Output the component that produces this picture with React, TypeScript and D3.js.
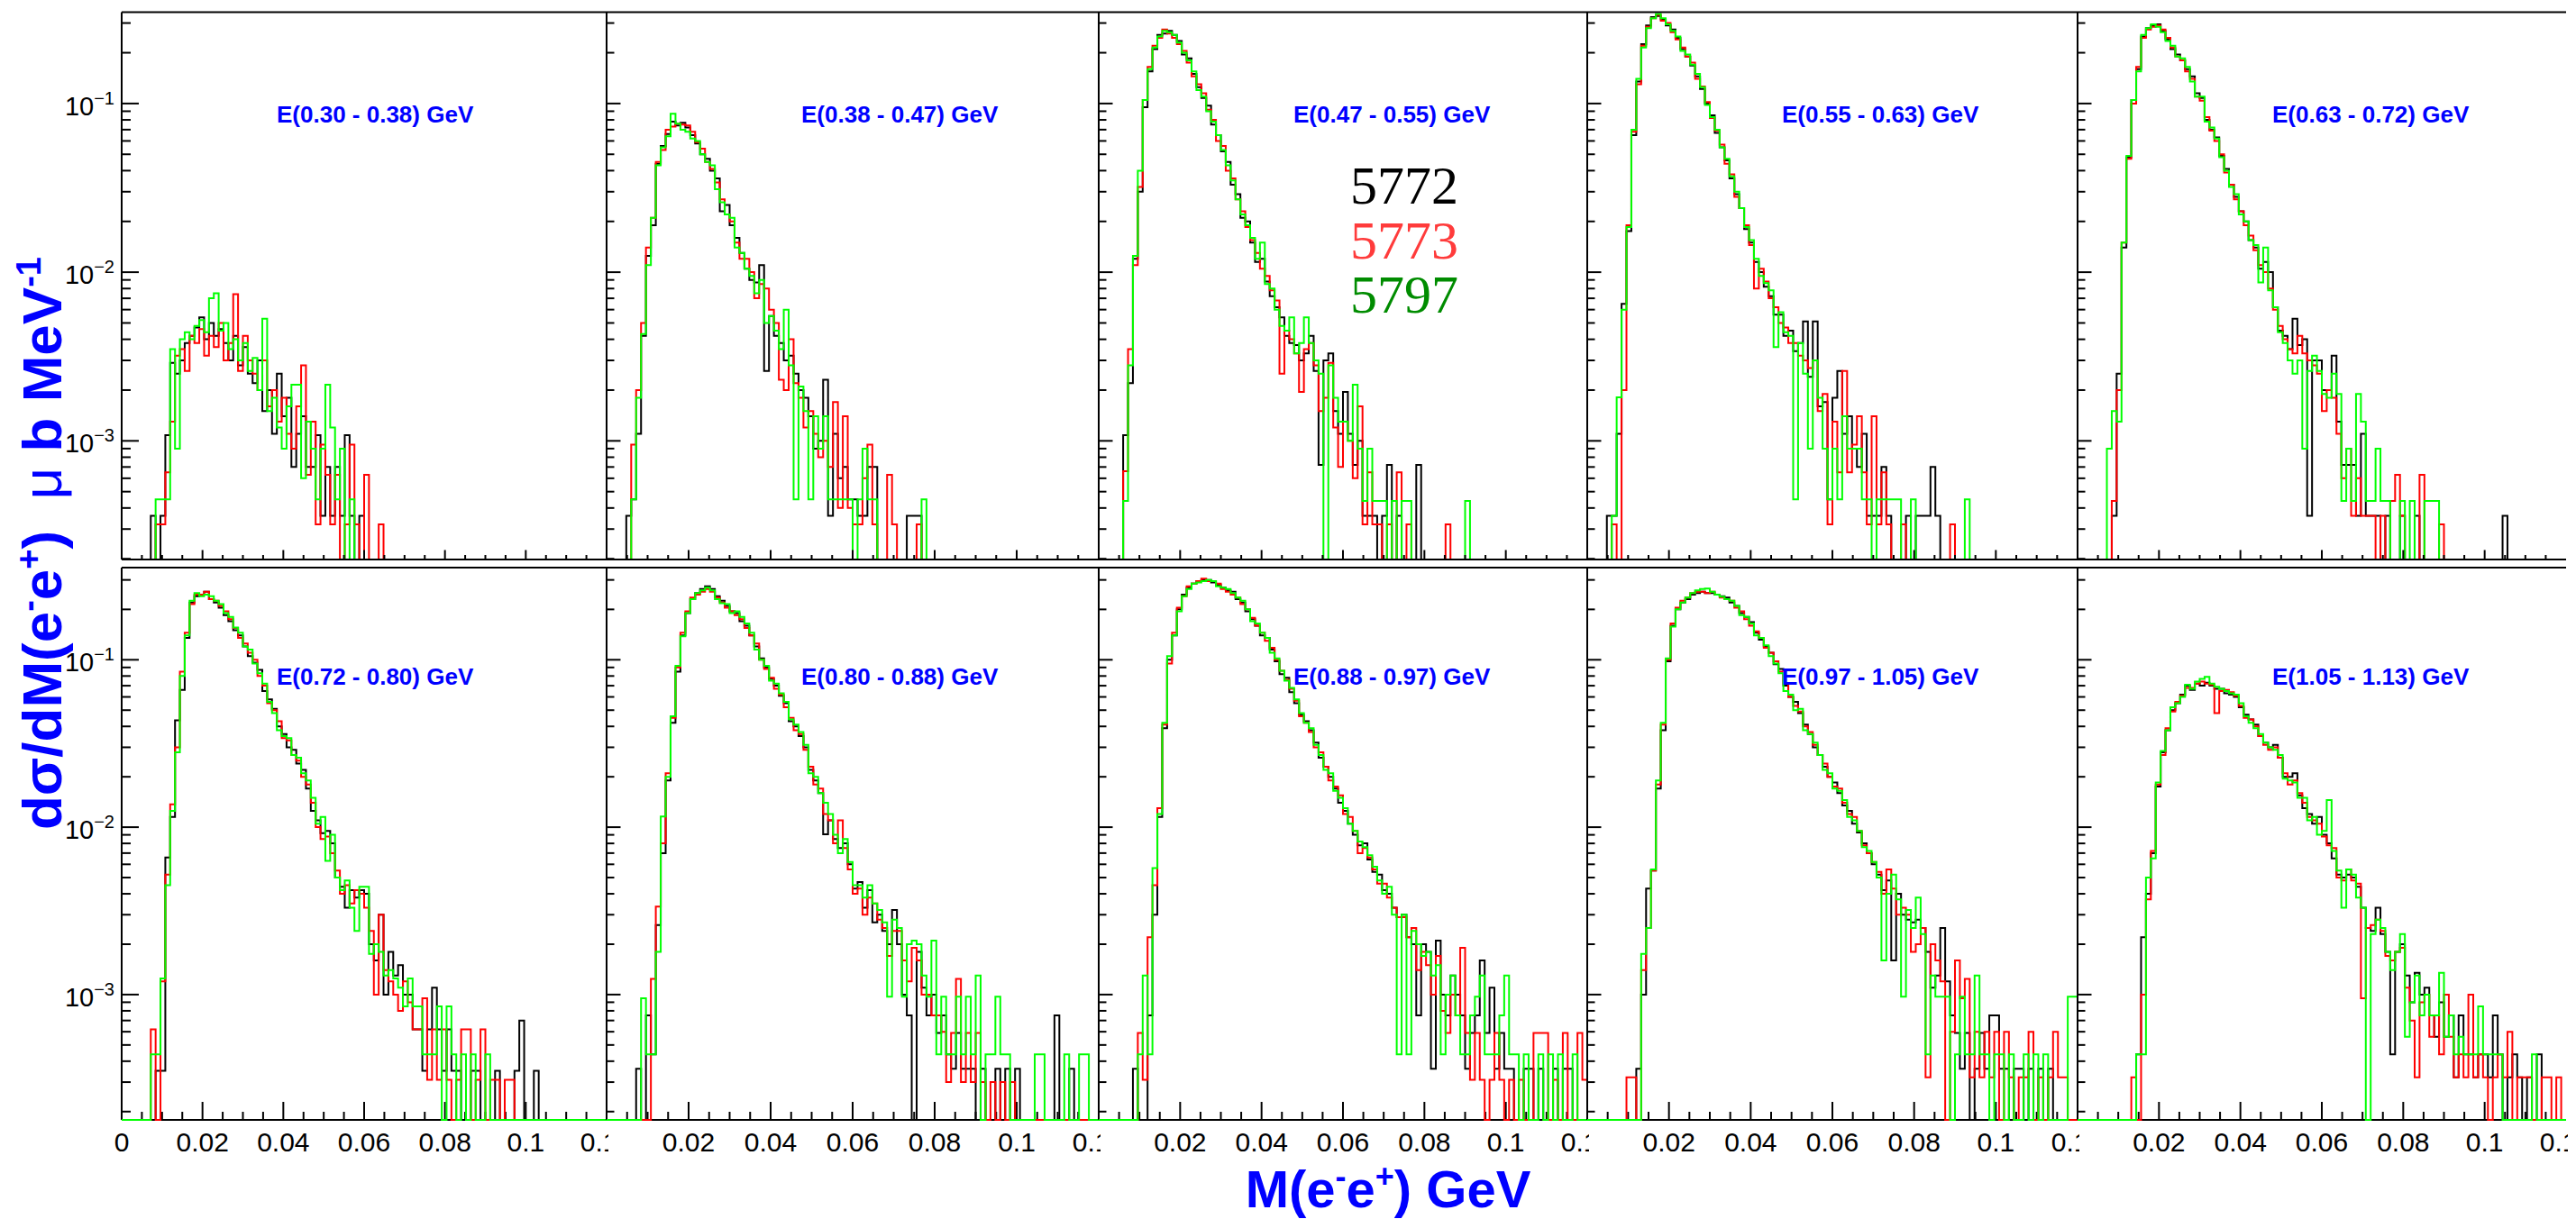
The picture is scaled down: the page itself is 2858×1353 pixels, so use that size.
import React from "react";
import * as d3 from "d3";

// ---------- axis / binning settings ----------
const X_MAX = 0.12;
const NBINS = 100;
const BIN_W = X_MAX / NBINS;
const UNIT = 1e-5; // values below are in units of 1e-5 (μb/MeV)

const ENERGY_LABELS = [
  "E(0.30 - 0.38) GeV", "E(0.38 - 0.47) GeV", "E(0.47 - 0.55) GeV", "E(0.55 - 0.63) GeV", "E(0.63 - 0.72) GeV",
  "E(0.72 - 0.80) GeV", "E(0.80 - 0.88) GeV", "E(0.88 - 0.97) GeV", "E(0.97 - 1.05) GeV", "E(1.05 - 1.13) GeV",
];
const RUNS = ["5772", "5773", "5797"];
const X_MAJOR = [0.02, 0.04, 0.06, 0.08, 0.1];
const X_MAJOR_LABELS = ["0.02", "0.04", "0.06", "0.08", "0.1"];
const X_EDGE_LABELS = ["0", "0.12"];
const Y_DECADES = [1e-1, 1e-2, 1e-3];
const Y_DECADE_EXP = ["\u22121", "\u22122", "\u22123"];

// ---------- data (bin contents, bins of 0.0012 GeV from 0) ----------
const p1_5772 = [0,0,0,0,0,0,36,0,36,108,290,250,300,380,420,470,540,400,500,420,460,380,300,420,280,360,250,220,300,150,200,110,250,140,180,70,110,140,70,70,108,36,70,36,70,36,108,36,0,36];
const p1_5773 = [0,0,0,0,0,0,0,32,32,65,130,320,350,260,420,380,460,320,420,360,500,300,380,740,260,420,300,250,200,300,160,200,130,180,110,90,160,280,63,130,32,95,63,32,63,0,32,95,32,0,63,0,0,32];
const p1_5797 = [0,0,0,0,0,0,0,45,45,45,350,90,400,440,400,480,520,440,700,750,450,500,350,400,300,380,260,310,200,530,150,180,120,90,160,215,215,60,130,90,45,90,215,120,45,90,0,45];

const p2_5772 = [0,0,0,0,36,45,110,420,1250,1900,4400,5600,6600,7800,7400,7700,7200,6500,5800,5000,4700,4000,3600,2300,2500,1900,1600,1300,1050,900,870,1100,260,550,420,380,300,320,250,200,180,140,90,100,230,36,110,60,70,45,45,36,36,70,70,0,0,0,0,0,0,36,36,36];
const p2_5773 = [0,0,0,0,0,95,200,500,1400,2100,4500,5300,7000,7300,7600,7500,7400,6800,5900,5400,4500,4100,3400,2700,2200,2000,1500,1200,1200,1000,700,850,800,600,500,230,200,400,220,180,120,150,110,80,100,70,170,40,140,40,32,32,60,95,32,0,0,63,32,0,0,0,0,32];
const p2_5797 = [0,0,0,0,0,45,180,430,1100,2100,4300,5500,6400,8700,7600,7000,6800,6200,6000,5000,4500,4300,3100,2600,2200,2100,1400,1300,1050,950,750,900,500,550,450,350,600,280,45,210,150,45,140,90,140,45,45,45,45,45,0,45,90,45,45,0,0,0,0,0,0,0,0,0,45];

const p3_5772 = [0,0,0,0,0,108,220,1200,3000,9500,15500,21000,25500,26000,27000,25500,23500,19500,18500,15000,12500,10800,9700,7500,6500,5200,4500,3300,2900,2100,2000,1500,1150,1200,880,720,620,540,420,380,370,300,330,420,260,72,300,330,150,110,195,110,72,100,36,36,36,0,36,72,0,36,0,0,0,72];
const p3_5773 = [0,0,0,0,0,66,350,1100,3200,10500,16500,22000,24500,27500,26000,24500,22500,20500,17500,14500,13000,11500,9200,8000,6000,5600,4000,3600,2700,2300,1850,1550,1300,1050,950,780,680,250,450,400,330,195,350,380,280,150,180,290,120,70,130,100,60,160,32,65,32,32,0,32,0,65,0,32,0,0,0,0,0,0,0,32];
const p3_5797 = [0,0,0,0,0,44,280,1250,4000,10500,16000,21500,25000,27000,26500,25500,23000,20000,18000,15500,12000,11000,9000,7800,6500,5300,4300,3500,2700,2200,1900,1600,1200,1500,850,800,600,480,450,540,330,380,540,380,300,250,0,280,180,130,130,100,215,90,44,90,44,44,44,0,44,0,44,44,0,0,0,0,0,0,0,0,0,0,0,44];

const p4_5772 = [0,0,0,0,36,36,110,650,1750,6500,13500,22500,29000,32500,33000,31500,29000,27500,24500,21000,19000,16800,14500,12200,10000,8500,6700,5500,4600,3600,2900,2400,1800,1500,1150,1000,820,720,560,560,420,450,340,380,510,240,510,160,170,45,180,260,110,140,90,70,110,36,36,36,70,36,0,0,0,36,0,36,36,36,70,36];
const p4_5773 = [0,0,0,0,0,32,0,200,1900,6800,13000,22000,28500,32000,33500,31000,30000,26500,24000,21500,19000,17500,14000,12600,10200,8200,6900,5700,4400,3800,2800,2400,1900,1450,800,1050,880,700,620,500,470,380,380,320,300,270,300,150,190,32,130,65,260,65,95,140,65,32,140,32,65,32,0,0,32,0,0,0,0,0,0,0,0,0,32];
const p4_5797 = [0,0,0,0,0,36,181,600,1850,7000,14000,21500,28000,32000,34000,32000,29500,27000,25000,20500,19500,17000,15000,12500,9800,8300,7000,5500,4700,3700,3000,2400,1850,1550,1200,950,860,780,360,580,440,420,45,380,250,90,300,180,90,45,90,45,140,90,90,90,45,45,0,45,45,45,45,45,0,0,45,0,0,0,0,0,0,0,0,0,0,45];

const p5_5772 = [0,0,0,0,0,0,0,36,250,1400,4800,10500,16000,25000,28000,29000,29500,27000,24000,21000,19500,18000,16000,14500,11500,10800,8000,7000,6300,4900,4100,3300,2800,2300,2000,1550,1400,1050,1150,1000,620,450,420,350,530,370,400,36,300,300,200,200,320,130,72,72,72,36,110,36,36,36,0,36,0,0,36,0,0,36,0,0,0,0,0,0,0,0,0,0,0,0,0,0,0,0,0,36];
const p5_5773 = [0,0,0,0,0,0,0,44,200,1500,4700,10000,16500,24500,27500,28500,29000,27500,24500,21500,19000,18000,15500,14000,11000,10400,8300,6900,6000,5000,3900,3300,2700,2300,1900,1650,1350,1100,1000,800,600,480,400,350,330,420,330,300,280,250,150,200,180,110,60,90,36,60,36,36,36,0,36,0,44,63,36,0,0,0,63,0,0,0,32];
const p5_5797 = [0,0,0,0,0,0,90,150,130,1500,4900,10500,15500,25500,28000,29500,28500,26500,23500,22000,19000,18500,16500,13500,11000,11000,7800,7200,6200,4800,4000,3200,2900,2200,2000,1550,1450,870,1400,780,620,440,380,300,250,300,90,260,320,260,190,180,250,190,44,90,44,190,130,44,44,90,44,44,0,0,44,0,44,0,0,44,44,44];

const p6_5772 = [0,0,0,0,0,0,0,35,35,660,1150,4350,6600,13500,22000,24000,24500,25500,23000,22000,20500,18500,17000,15000,14000,12000,10500,9600,8700,6500,5800,5100,4000,3600,3000,2900,2400,2200,1700,1250,1100,920,950,800,500,440,330,420,380,420,400,200,160,300,100,180,130,150,100,100,62,62,35,62,110,62,35,62,35,35,0,0,35,35,0,0,0,35,0,0,0,35,70,0,0,35];
const p6_5773 = [0,0,0,0,0,0,62,0,120,520,1370,3000,8500,14500,21500,24500,24500,25500,23000,22500,21000,19500,17500,15500,13500,12500,11000,10000,8000,7000,5500,5000,4300,3400,3300,2700,2500,2000,1800,1400,1000,850,880,700,550,400,450,350,420,400,330,240,100,300,140,120,100,80,120,90,62,62,95,31,62,31,62,31,0,31,62,62,0,31,62,0,31,31,0,31,31];
const p6_5797 = [0,0,0,0,0,0,44,44,125,450,1250,2800,8000,14000,22500,25000,24000,24500,24000,22500,21500,19000,18000,15600,14500,12000,11500,9500,8300,7200,5600,4800,3800,3500,3400,2700,2600,2100,1900,1500,1050,1150,630,900,500,420,480,330,240,440,440,175,200,180,130,140,125,110,85,125,85,85,44,44,44,85,0,85,44,0,44,0,44,0,0,44];

const p7_5772 = [0,0,0,0,0,0,36,0,75,44,260,700,1900,4200,8500,14000,19000,23000,25000,26500,27500,26500,24000,22500,21000,19500,19000,17000,16000,14000,12000,10200,9000,7700,7000,6100,5500,4300,4000,3500,3000,2200,1900,1600,906,1100,850,750,800,600,430,470,330,420,270,300,240,200,320,200,100,75,0,180,110,75,100,59,75,44,36,59,36,36,36,0,36,0,0,36,0,36,0,36,0,0,0,0,0,0,0,75,0,0,36];
const p7_5773 = [0,0,0,0,0,0,0,0,0,124,335,800,2100,4500,9000,14500,19500,23500,24500,25500,26500,25500,23500,22000,20500,19500,18500,17500,15500,14000,12500,10000,8800,7800,6700,6200,5200,4500,3800,3600,2900,2300,1800,1700,1200,1100,800,1100,750,560,400,430,300,380,350,280,250,170,240,240,160,120,190,160,100,100,75,75,60,30,59,124,30,59,30,59,30,0,30,0,30,0,30];
const p7_5797 = [0,0,0,0,0,0,0,95,44,44,180,1160,2000,4600,9200,13800,19000,23000,25000,26000,27000,26000,23000,21800,21500,19000,19500,18000,16500,14500,11500,10000,9200,7500,7200,6300,5600,4400,4100,3700,3100,2100,2000,1600,1400,1200,900,700,850,620,450,450,380,450,350,320,270,97,280,250,97,200,210,200,130,97,210,44,97,44,44,97,44,97,44,130,0,44,44,97,44,44,0,0,0,0,0,44,44,0,0,0,0,44,0,0,44,44];

const p8_5772 = [0,0,0,0,0,0,0,36,0,0,75,300,1150,3900,10000,14000,20000,24500,27000,28500,29500,30000,30000,29000,28000,27000,26000,25500,23000,22000,19500,17500,16000,14000,13500,11500,9800,8200,7800,6400,5500,4700,4300,3800,3200,2600,2300,2000,1700,1400,1250,1050,900,780,800,640,540,520,420,400,330,290,300,220,200,75,200,180,36,210,100,75,130,100,75,36,59,75,160,59,110,36,59,36,36,0,0,36,36,0,36,0,0,36,0,36,36];
const p8_5773 = [0,0,0,0,0,0,0,0,59,31,220,450,1300,4100,9500,14500,20500,24000,27500,28500,29500,30500,29500,29500,28500,26500,25500,24500,23500,21500,20000,17800,16000,14500,13000,11800,10000,8600,7600,6700,5700,4600,4200,3700,3000,2800,2300,1900,1750,1550,1200,1150,950,700,750,660,560,460,460,380,330,290,290,220,250,140,180,150,100,170,80,59,100,75,190,59,31,59,31,0,31,59,31,0,31,0,31,0,0,59,59,59,0,31,0,59,0,0,59,31];
const p8_5797 = [0,0,0,0,0,0,0,0,44,130,44,570,1200,4200,10500,14000,19500,24000,26500,28500,29000,29500,30000,29500,27500,27000,26500,25000,23500,22500,20000,17000,16500,14500,13500,11000,10200,8600,7500,6800,5800,4800,4200,3900,3100,2700,2200,2100,1650,1500,1300,1050,950,820,760,680,580,480,400,440,300,44,300,44,240,200,170,180,130,150,44,100,130,75,44,44,75,97,130,44,44,44,75,130,44,44,0,44,0,0,44,0,44,0,44,0,0,44];

const p9_5772 = [0,0,0,0,0,0,0,0,0,0,36,100,430,550,1700,3800,9800,16000,20000,22000,23000,24500,25000,25500,25000,25000,24500,24000,23500,22000,21000,19000,18000,16800,14500,13200,12000,11000,9400,8800,7000,6000,5600,4800,4100,3600,3000,2700,2300,2000,1850,1600,1350,1250,1050,930,800,700,600,520,420,480,160,400,300,280,270,280,250,180,110,130,250,120,75,59,36,59,0,36,59,36,75,75,36,36,0,36,36,0,36,0,36,0,36];
const p9_5773 = [0,0,0,0,0,0,0,0,32,32,0,140,250,550,1800,4100,10000,16500,20500,22500,23500,25000,25500,25500,25000,25500,24500,23500,23000,22500,20500,19500,17500,16000,14800,13500,11800,11000,9800,8500,7200,6000,5300,4900,4000,3700,3100,2700,2400,2000,1750,1700,1400,1200,1150,950,780,700,620,540,400,560,430,300,330,300,180,200,250,32,200,160,120,0,60,160,95,124,32,60,32,60,32,60,0,60,32,0,32,32,60,0,32,0,32,60,32,32];
const p9_5797 = [0,0,0,0,0,0,0,0,0,0,0,175,250,560,1900,4200,10200,15800,20000,22000,23500,25000,26000,26500,26600,25500,24500,23800,23000,22500,21000,18500,18000,16500,14000,13500,12200,10500,9500,8300,6500,6200,5000,5100,3800,3600,3200,2700,2200,2100,1700,1650,1450,1150,1100,950,760,720,620,500,160,400,520,370,97,320,250,380,230,44,130,97,97,97,0,44,97,44,44,130,44,44,0,44,44,0,44,0,0,44,0,44,0,44,0,0,0,0,97,97];

const p10_5772 = [0,0,0,0,0,0,0,0,0,0,0,0,44,220,400,700,1750,2800,3800,5000,5500,6200,7000,6600,7200,7000,7300,7000,6700,6700,6300,6200,6000,5200,4700,4400,4100,3500,3200,3000,3100,2600,2000,2000,2100,1550,1300,1200,1050,1150,900,800,650,520,500,520,500,440,330,250,240,330,230,180,44,180,200,130,90,135,100,110,75,56,90,56,75,32,75,44,44,32,44,44,32,75,44,0,32,44,32,0,32,0,44];
const p10_5773 = [0,0,0,0,0,0,0,0,0,0,0,32,0,100,370,720,1800,2700,3900,4900,5600,6100,6800,6800,7200,7400,7200,7100,4800,6500,6600,6400,6100,5300,4500,4400,4000,3500,3100,2900,3000,2600,2100,1800,1900,1600,1400,1150,1100,1050,880,780,750,500,480,560,480,460,95,250,260,280,240,170,160,180,190,110,70,32,90,100,56,75,44,100,56,32,44,32,100,32,44,32,0,32,44,32,60,0,32,32,32,0,0,32,32,0,32];
const p10_5797 = [0,0,0,0,0,0,0,0,0,0,0,0,44,44,500,650,1850,2850,3800,5200,5500,6000,7100,6700,7400,7700,7900,7200,6900,6700,6500,6300,6200,5500,4600,4200,3900,3600,3200,3000,2900,2700,1950,1900,1850,1500,1500,1100,1150,900,950,1450,720,550,330,560,520,380,330,0,230,280,250,180,140,180,230,56,90,130,75,100,75,75,135,56,75,44,56,44,44,44,85,44,44,44,44,0,0,0,0,0,0,44];

const RUN_5772 = [p1_5772, p2_5772, p3_5772, p4_5772, p5_5772, p6_5772, p7_5772, p8_5772, p9_5772, p10_5772];
const RUN_5773 = [p1_5773, p2_5773, p3_5773, p4_5773, p5_5773, p6_5773, p7_5773, p8_5773, p9_5773, p10_5773];
const RUN_5797 = [p1_5797, p2_5797, p3_5797, p4_5797, p5_5797, p6_5797, p7_5797, p8_5797, p9_5797, p10_5797];

// ---------- layout ----------
const W = 2858;
const H = 1353;
const COL_EDGES = [135, 673, 1219, 1761, 2305, 2847];
const ROWS = [
  { top: 13.5, bottom: 621, yMin: 1.98e-4, yMax: 0.348, xMajor: 10.5, xMinor: 5 },
  { top: 630, bottom: 1243, yMin: 1.784e-4, yMax: 0.3553, xMajor: 20, xMinor: 9 },
];
const LINE_COLORS = ["#000000", "#ff0000", "#00ff00"];
const LEGEND_COLORS = ["#000000", "#ff3b3b", "#008c00"];
const FONT = "'Liberation Sans', Arial, Helvetica, sans-serif";
const BLUE = "#0000ff";

function Panel({ p }: { p: number }) {
  const row = Math.floor(p / 5);
  const col = p % 5;
  const R = ROWS[row];
  const x0 = COL_EDGES[col];
  const x1 = COL_EDGES[col + 1];
  const x = d3.scaleLinear().domain([0, X_MAX]).range([x0, x1]);
  const y = d3.scaleLog().domain([R.yMin, R.yMax]).range([R.bottom, R.top]);
  const line = d3.line<[number, number]>().curve(d3.curveStepAfter);
  const seriesList = [RUN_5772[p], RUN_5773[p], RUN_5797[p]];
  const paths = seriesList.map((arr) => {
    const pts: [number, number][] = [];
    for (let i = 0; i < NBINS; i++) {
      const v = (arr[i] || 0) * UNIT;
      pts.push([x(i * BIN_W), y(Math.max(v, R.yMin))]);
    }
    pts.push([x(X_MAX), pts[pts.length - 1][1]]);
    return line(pts) as string;
  });

  const yMajLen = col === 0 ? 19 : 15.5;
  const yMinLen = col === 0 ? 10 : 8.5;
  const yMinor: number[] = [];
  [1e-4, 1e-3, 1e-2, 1e-1].forEach((e) => {
    for (let k = 2; k <= 9; k++) {
      const v = k * e;
      if (v > R.yMin && v < R.yMax) yMinor.push(v);
    }
  });
  const xMinor: number[] = [];
  for (let k = 1; k < 24; k++) {
    if (k % 4 !== 0) xMinor.push(k * 0.005);
  }

  const clipId = `clip${p}`;
  const labClipId = `lclip${p}`;
  const axes = (
    <g stroke="#000" strokeWidth={2} fill="none">
      <line x1={x0} x2={x1} y1={R.top} y2={R.top} />
      <line x1={x0} x2={x0} y1={R.top} y2={R.bottom} />
      <line x1={x0} x2={x1} y1={R.bottom} y2={R.bottom} />
      {Y_DECADES.map((v) => (
        <line key={"ym" + v} x1={x0} x2={x0 + yMajLen} y1={y(v)} y2={y(v)} />
      ))}
      {yMinor.map((v) => (
        <line key={"yn" + v} x1={x0} x2={x0 + yMinLen} y1={y(v)} y2={y(v)} />
      ))}
      {X_MAJOR.map((v) => (
        <line key={"xm" + v} x1={x(v)} x2={x(v)} y1={R.bottom} y2={R.bottom - R.xMajor} />
      ))}
      {xMinor.map((v) => (
        <line key={"xn" + v} x1={x(v)} x2={x(v)} y1={R.bottom} y2={R.bottom - R.xMinor} />
      ))}
    </g>
  );
  const hists = (
    <g clipPath={`url(#${clipId})`} fill="none" strokeWidth={2}>
      {paths.map((d, i) => (
        <path key={i} d={d} stroke={LINE_COLORS[i]} />
      ))}
    </g>
  );
  return (
    <g>
      <defs>
        <clipPath id={clipId}>
          <rect x={x0} y={R.top} width={x1 - x0} height={R.bottom - R.top + (row === 1 ? 1.5 : 0)} />
        </clipPath>
        <clipPath id={labClipId}>
          <rect x={x0 - 40} y={R.bottom} width={x1 - x0 + 42} height={80} />
        </clipPath>
      </defs>
      {row === 1 ? axes : null}
      {hists}
      {row === 0 ? axes : null}
      <text
        x={col === 0 ? 307 : x0 + 216}
        y={row === 0 ? 136 : 760}
        fill={BLUE}
        fontSize={26}
        fontWeight="bold"
        fontFamily={FONT}
      >
        {ENERGY_LABELS[p]}
      </text>
      {col === 0 &&
        Y_DECADES.map((v, i) => (
          <text key={"yl" + v} x={127} y={y(v) + 13} textAnchor="end" fontSize={29} fontFamily={FONT} fill="#000">
            10
            <tspan dy={-12} fontSize={20}>
              {Y_DECADE_EXP[i]}
            </tspan>
          </text>
        ))}
      {row === 1 && (
        <g fontSize={30} fontFamily={FONT} fill="#000" textAnchor="middle" clipPath={`url(#${labClipId})`}>
          {col === 0 && (
            <text x={x(0)} y={1278}>
              {X_EDGE_LABELS[0]}
            </text>
          )}
          {X_MAJOR.map((v, i) => (
            <text key={"xl" + v} x={x(v)} y={1278}>
              {X_MAJOR_LABELS[i]}
            </text>
          ))}
          <text x={x(X_MAX)} y={1278}>
            {X_EDGE_LABELS[1]}
          </text>
        </g>
      )}
    </g>
  );
}

export default function App() {
  return (
    <svg
      width={W}
      height={H}
      viewBox={`0 0 ${W} ${H}`}
      style={{ position: "absolute", left: 0, top: 0, background: "#fff", display: "block" }}
      fontFamily={FONT}
    >
      <rect x={0} y={0} width={W} height={H} fill="#fff" />
      {ENERGY_LABELS.map((_, p) => (
        <Panel key={p} p={p} />
      ))}
      <g fontFamily="'Liberation Serif', 'Times New Roman', serif" fontSize={60}>
        {RUNS.map((r, i) => (
          <text key={r} x={1498} y={226 + i * 60.5} fill={LEGEND_COLORS[i]}>
            {r}
          </text>
        ))}
      </g>
      <text
        transform="translate(68,921) rotate(-90)"
        textAnchor="start"
        fontSize={62}
        fontWeight="bold"
        fill={BLUE}
        fontFamily={FONT}
      >
        dσ/dM(e
        <tspan dy={-23} fontSize={38}>-</tspan>
        <tspan dy={23}>e</tspan>
        <tspan dy={-23} fontSize={38}>+</tspan>
        <tspan dy={23}>{")\u00a0\u00a0"}</tspan>
        <tspan fontWeight="normal">μ</tspan>
        <tspan>{"\u00a0b\u00a0MeV"}</tspan>
        <tspan dy={-23} fontSize={38}>-1</tspan>
      </text>
      <text x={1540} y={1340} textAnchor="middle" fontSize={58} fontWeight="bold" fill={BLUE} fontFamily={FONT}>
        M(e
        <tspan dy={-22} fontSize={36}>-</tspan>
        <tspan dy={22}>e</tspan>
        <tspan dy={-22} fontSize={36}>+</tspan>
        <tspan dy={22}>{") GeV"}</tspan>
      </text>
    </svg>
  );
}
